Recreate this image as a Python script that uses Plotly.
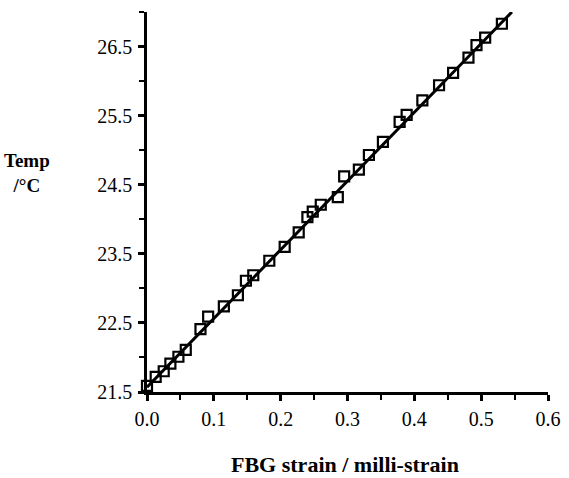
import plotly.graph_objects as go

strain = [0.0, 0.013, 0.025, 0.035, 0.047, 0.058, 0.080, 0.0915, 0.115, 0.136,
          0.148, 0.159, 0.183, 0.206, 0.227, 0.240, 0.248, 0.260, 0.2855, 0.295,
          0.317, 0.332, 0.353, 0.378, 0.3885, 0.412, 0.437, 0.458, 0.481, 0.493,
          0.506, 0.531]
temp = [21.59, 21.72, 21.80, 21.91, 22.01, 22.11, 22.41, 22.59, 22.74, 22.90,
        23.11, 23.19, 23.40, 23.60, 23.81, 24.03, 24.11, 24.21, 24.32, 24.62,
        24.72, 24.93, 25.12, 25.41, 25.51, 25.72, 25.94, 26.12, 26.34, 26.52,
        26.63, 26.83]
fit_x = [0.0, 0.546]
fit_y = [21.57, 27.0]

FONT = "Liberation Serif"

fig = go.Figure()
fig.add_trace(go.Scatter(x=fit_x, y=fit_y, mode="lines",
                         line=dict(color="black", width=3), showlegend=False))
fig.add_trace(go.Scatter(x=strain, y=temp, mode="markers",
                         marker=dict(symbol="square-open", size=10, color="black",
                                     line=dict(color="black", width=2.2)),
                         showlegend=False, cliponaxis=False))

fig.update_layout(
    width=569, height=478,
    margin=dict(l=147, r=21, t=12, b=86, autoexpand=False),
    paper_bgcolor="white", plot_bgcolor="white",
    font=dict(family=FONT, size=20, color="black"),
    xaxis=dict(range=[0, 0.6], tick0=0, dtick=0.1, tickformat=".1f", automargin=False,
               showgrid=False, zeroline=False, showline=True, linecolor="black",
               linewidth=2.5, ticks="outside", ticklen=6, tickwidth=2.5, tickcolor="black",
               ticklabelstandoff=1,
               minor=dict(dtick=0.05, ticks="outside", ticklen=5, tickwidth=2,
                          tickcolor="black", showgrid=False)),
    yaxis=dict(range=[21.5, 27.0], tick0=21.5, dtick=1, tickformat=".1f", automargin=False,
               showgrid=False, zeroline=False, showline=True, linecolor="black",
               linewidth=2.5, ticks="outside", ticklen=6, tickwidth=2.5, tickcolor="black",
               ticklabelstandoff=2,
               minor=dict(dtick=0.5, ticks="outside", ticklen=5, tickwidth=2,
                          tickcolor="black", showgrid=False)),
)
fig.add_annotation(text="<b>Temp</b><br><b>/°C</b>", xref="paper", yref="paper",
                   x=-0.299, y=0.576, showarrow=False, xanchor="center", yanchor="middle",
                   font=dict(family=FONT, size=19))
fig.add_annotation(text="<b>FBG strain / milli-strain</b>", xref="paper", yref="paper",
                   x=0.495, y=-0.19, showarrow=False, xanchor="center", yanchor="middle",
                   borderpad=0, font=dict(family=FONT, size=22))

fig.write_html("out.html", config={"displayModeBar": False},
               post_script="document.body.style.margin='0';")
